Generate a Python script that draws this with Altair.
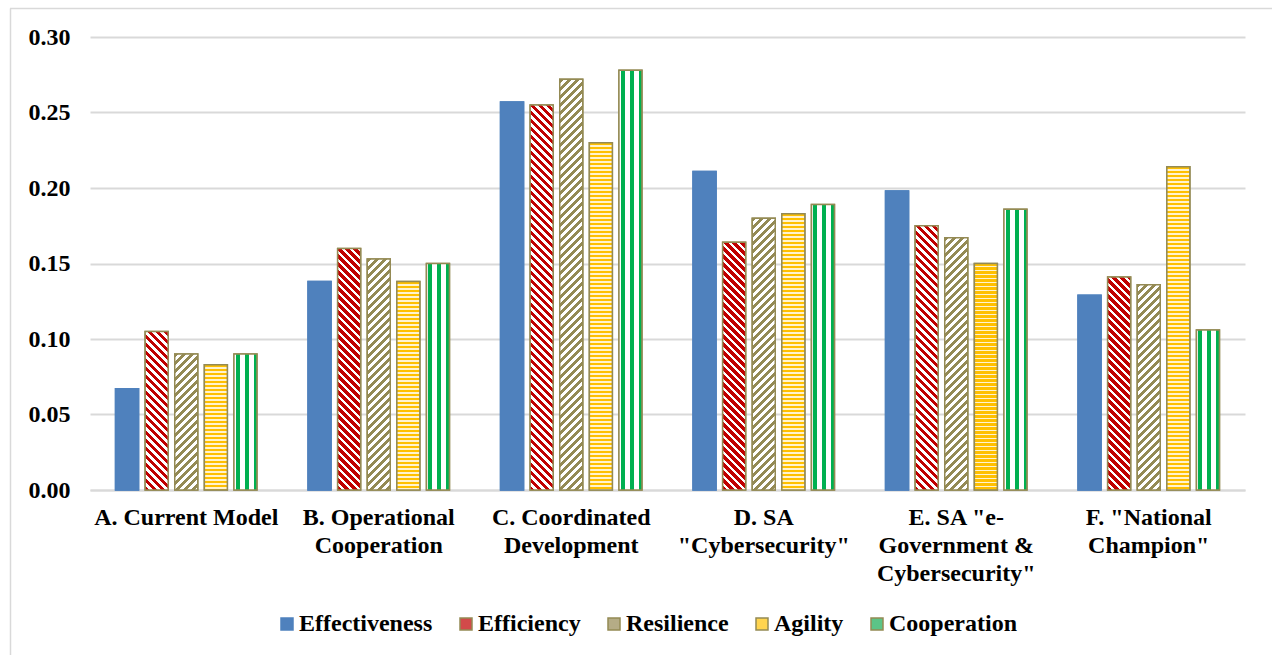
import altair as alt

# ---- data -----------------------------------------------------------------
CATEGORY_LINES = [
    ["A. Current Model"],
    ["B. Operational", "Cooperation"],
    ["C. Coordinated", "Development"],
    ["D. SA", "\"Cybersecurity\""],
    ["E. SA \"e-", "Government &", "Cybersecurity\""],
    ["F. \"National", "Champion\""],
]
SERIES = ["Effectiveness", "Efficiency", "Resilience", "Agility", "Cooperation"]

effectiveness = [0.067, 0.138, 0.257, 0.211, 0.198, 0.129]
efficiency = [0.105, 0.160, 0.255, 0.164, 0.175, 0.141]
resilience = [0.090, 0.153, 0.272, 0.180, 0.167, 0.136]
agility = [0.083, 0.138, 0.230, 0.183, 0.150, 0.214]
cooperation = [0.090, 0.150, 0.278, 0.189, 0.186, 0.106]

Y_TICKS = [0.00, 0.05, 0.10, 0.15, 0.20, 0.25, 0.30]

# ---- layout / style -------------------------------------------------------
PLOT_W, PLOT_H = 1155, 453
Y_MAX = 0.30
FONT = "Liberation Serif"
GRID = "#D9D9D9"
OLIVE = "#948A54"
BLUE = "#4F81BD"
RED = "#C00000"
YELLOW = "#FFC000"
GREEN = "#00B050"
WHITE = "#FFFFFF"

OFFSET_INNER, OFFSET_OUTER = 0.223, 0.863
BAND = PLOT_W / len(CATEGORY_LINES)
STEP = BAND / (len(SERIES) - OFFSET_INNER + 2 * OFFSET_OUTER)
BAR_W = STEP * (1 - OFFSET_INNER)

CATEGORIES = ["\n".join(lines) for lines in CATEGORY_LINES]
VALUES = [effectiveness, efficiency, resilience, agility, cooperation]

LEGEND_FILL = [BLUE, "#D24A4A", "#B5AC86", "#FFD44F", "#5CC487"]
EDGE = [BLUE, OLIVE, OLIVE, OLIVE, OLIVE]


def band_stops(length, period, on, start, on_color, off_color):
    """Hard-edged stripe stops along a gradient of `length` pixels."""
    stops = []
    x = (start % period) - period
    while x < length:
        for a, b, col in ((x, x + on, on_color), (x + on, x + period, off_color)):
            a2, b2 = max(a, 0.0), min(b, length)
            if b2 > a2:
                stops.append({"offset": round(a2 / length, 5), "color": col})
                stops.append({"offset": round(b2 / length, 5), "color": col})
        x += period
    return stops


def pattern(series, value):
    w = BAR_W
    h = max(value / Y_MAX * PLOT_H, 1.0)
    if series == "Effectiveness":
        return BLUE
    if series == "Cooperation":  # vertical stripes
        return {"gradient": "linear", "x1": 0, "y1": 0, "x2": 1, "y2": 0,
                "stops": band_stops(w, 9.0, 4.0, 2.0, GREEN, WHITE)}
    if series == "Agility":  # horizontal stripes
        return {"gradient": "linear", "x1": 0.5, "y1": 0, "x2": 0.5, "y2": 1,
                "stops": band_stops(h, 4.0, 2.2, 0.0, YELLOW, "#FFF3CF")}
    s = (w + h) / (w * w + h * h)
    if series == "Efficiency":  # "\" diagonal stripes
        return {"gradient": "linear", "x1": 0, "y1": 1, "x2": s * w, "y2": 1 - s * h,
                "stops": band_stops(w + h, 8.0, 4.6, 0.0, RED, WHITE)}
    # Resilience: "/" diagonal stripes
    return {"gradient": "linear", "x1": 0, "y1": 0, "x2": s * w, "y2": s * h,
            "stops": band_stops(w + h, 8.0, 4.0, 0.0, OLIVE, WHITE)}


rows = []
for si, name in enumerate(SERIES):
    for ci, cat in enumerate(CATEGORIES):
        v = VALUES[si][ci]
        rows.append({"category": cat, "series": name, "value": v,
                     "grad": pattern(name, v)})

data = alt.Data(values=rows)

x_enc = alt.X(
    "category:N",
    sort=CATEGORIES,
    scale=alt.Scale(domain=CATEGORIES, paddingInner=0, paddingOuter=0),
    axis=alt.Axis(
        title=None, labelAngle=0, ticks=False, grid=False,
        domain=True, domainColor=GRID, domainWidth=2,
        labelExpr="split(datum.label, '\\n')",
        labelFont=FONT, labelFontSize=24, labelFontWeight="bold", labelColor="black",
        labelLineHeight=28, labelPadding=15, labelLimit=0,
    ),
)
xo_enc = alt.XOffset(
    "series:N", sort=SERIES,
    scale=alt.Scale(domain=SERIES, paddingInner=OFFSET_INNER, paddingOuter=OFFSET_OUTER),
)
y_enc = alt.Y(
    "value:Q",
    scale=alt.Scale(domain=[0, Y_MAX], nice=False, zero=True),
    axis=alt.Axis(
        title=None, values=Y_TICKS, format=".2f", ticks=False, domain=False,
        grid=True, gridColor=GRID, gridWidth=2,
        labelFont=FONT, labelFontSize=24, labelFontWeight="bold", labelColor="black",
        labelPadding=20,
    ),
)

legend = alt.Legend(
    title=None, orient="none", direction="horizontal", legendX=185, legendY=575,
    symbolType="square", symbolSize=144, symbolStrokeWidth=1.5,
    labelFont=FONT, labelFontSize=24, labelFontWeight="bold", labelColor="black",
    labelOffset=0, columnPadding=21, columns=5, labelLimit=0,
)

base_bars = alt.Chart(data).mark_bar(strokeWidth=1.5).encode(
    x=x_enc, xOffset=xo_enc, y=y_enc,
    fill=alt.Fill("series:N", scale=alt.Scale(domain=SERIES, range=LEGEND_FILL), legend=legend),
    stroke=alt.Stroke("series:N", scale=alt.Scale(domain=SERIES, range=EDGE), legend=legend),
)

pattern_bars = alt.Chart(data).mark_bar(strokeWidth=1.5).encode(
    x=x_enc, xOffset=xo_enc, y=y_enc,
    fill=alt.Fill("grad:N", scale=None),
    stroke=alt.Stroke("series:N", scale=alt.Scale(domain=SERIES, range=EDGE), legend=None),
)

# light frame around the whole figure (top and left edges)
frame_src = alt.Data(values=[{"k": 0}])
frame_top = alt.Chart(frame_src).mark_rule(color=GRID, strokeWidth=1.5).encode(
    x=alt.value(-80), x2=alt.value(1185), y=alt.value(-28.5)
)
frame_left = alt.Chart(frame_src).mark_rule(color=GRID, strokeWidth=1.5).encode(
    x=alt.value(-79.5), y=alt.value(-28.5), y2=alt.value(620)
)

chart = alt.layer(base_bars, pattern_bars, frame_top, frame_left).properties(
    width=PLOT_W, height=PLOT_H,
    padding={"left": 90, "top": 37, "right": 27, "bottom": 165},
    autosize=alt.AutoSizeParams(type="none"),
    background="white",
).configure_view(stroke=None)

chart.save("out.html", embed_options={"renderer": "svg", "actions": False})
